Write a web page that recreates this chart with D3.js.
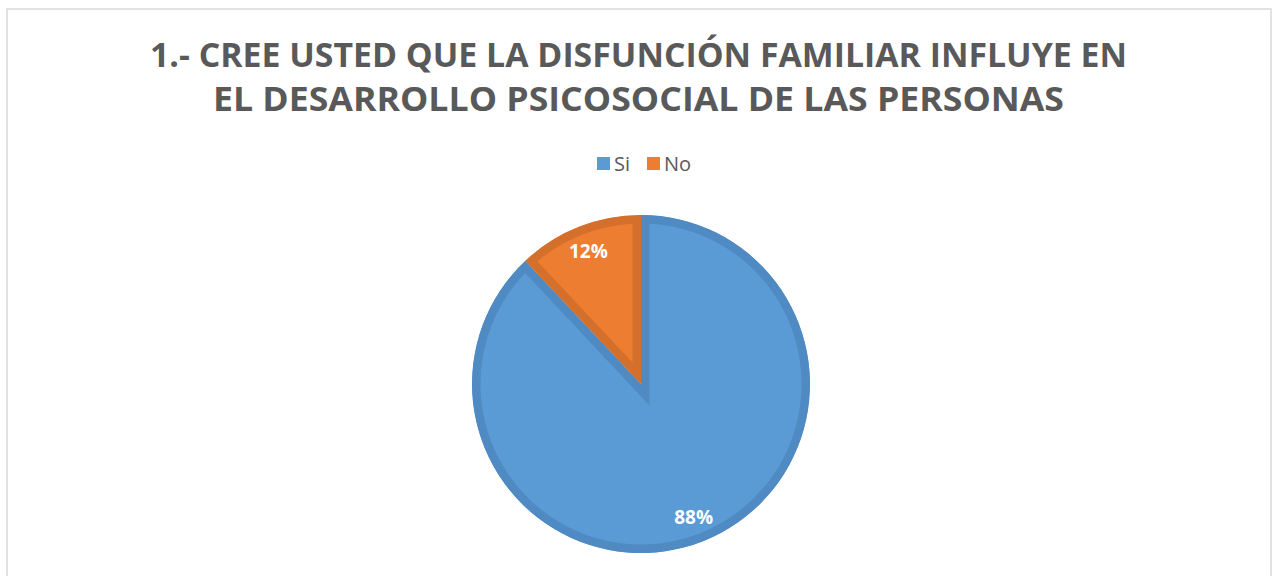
<!DOCTYPE html>
<html>
<head>
<meta charset="utf-8">
<script src="https://cdn.jsdelivr.net/npm/d3@7"></script>
<style>
	html, body { margin: 0; padding: 0; background: #fff; }
	svg { display: block; font-family: 'Open Sans', sans-serif; }
</style>
</head>
<body>
<div id="chart"></div>
<script>
const categories = ['Si', 'No'];
const values = [88, 12];
const valueLabels = ['88%', '12%'];
const titleLines = [
	'1.- CREE USTED QUE LA DISFUNCIÓN FAMILIAR INFLUYE EN',
	'EL DESARROLLO PSICOSOCIAL DE LAS PERSONAS'
];

(() => {
	const width = 1272;
	const height = 576;
	const cx = 641;
	const cy = 384;
	const radius = 169;

	const fill = d3.scaleOrdinal().domain(categories).range(['#5b9bd5', '#ed7d31']);
	const edge = d3.scaleOrdinal().domain(categories).range(['#4f8ac3', '#d5702c']);

	const svg = d3.select('#chart').append('svg')
		.attr('width', width)
		.attr('height', height);

	// chart area border
	svg.append('rect')
		.attr('x', 7)
		.attr('y', 9)
		.attr('width', width - 8)
		.attr('height', height + 20)
		.style('fill', '#fff')
		.style('stroke', '#d9d9d9')
		.style('stroke-width', 1.5);

	// title, each line stretched to the width it has in the original
	const titleWidths = [977, 851];
	const title = svg.append('g')
		.style('font-weight', 700)
		.style('font-size', '34px')
		.style('fill', '#595959')
		.style('text-anchor', 'middle');
	title.selectAll('text')
		.data(titleLines)
		.enter().append('text')
			.attr('x', 638.5)
			.attr('y', (d, i) => 67 + i * 44)
			.attr('textLength', (d, i) => titleWidths[i])
			.attr('lengthAdjust', 'spacingAndGlyphs')
			.text(d => d);

	// legend
	const legendX = d3.scalePoint()
		.domain(categories)
		.range([597, 647]);
	const legend = svg.append('g');
	const item = legend.selectAll('.item')
		.data(categories)
		.enter().append('g')
			.attr('class', 'item')
			.attr('transform', d => `translate(${legendX(d)}, 157)`);
	item.append('rect')
		.attr('width', 13)
		.attr('height', 13)
		.style('fill', d => fill(d));
	item.append('text')
		.attr('x', 17)
		.attr('y', 14)
		.style('font-size', '20px')
		.style('fill', '#595959')
		.text(d => d);

	// pie
	const pie = d3.pie().sort(null).value(d => d);
	const arcs = pie(values);
	const arc = d3.arc().innerRadius(0).outerRadius(radius);
	const labelArc = d3.arc().innerRadius(143).outerRadius(143);

	const chart = svg.append('g')
		.attr('transform', `translate(${cx}, ${cy})`);

	const defs = svg.append('defs');
	defs.selectAll('clipPath')
		.data(arcs)
		.enter().append('clipPath')
			.attr('id', (d, i) => `slice-${i}`)
			.append('path')
				.attr('d', arc);

	chart.selectAll('.slice')
		.data(arcs)
		.enter().append('path')
			.attr('class', 'slice')
			.attr('d', arc)
			.attr('clip-path', (d, i) => `url(#slice-${i})`)
			.style('fill', (d, i) => fill(categories[i]))
			.style('stroke', (d, i) => edge(categories[i]))
			.style('stroke-width', 17)
			.style('stroke-linejoin', 'miter');

	chart.selectAll('.label')
		.data(arcs)
		.enter().append('text')
			.attr('class', 'label')
			.attr('x', d => labelArc.centroid(d)[0])
			.attr('y', d => labelArc.centroid(d)[1] + 7)
			.style('text-anchor', 'middle')
			.style('font-size', '19px')
			.style('font-weight', 700)
			.style('fill', '#fff')
			.text((d, i) => valueLabels[i]);
})();
</script>
</body>
</html>
